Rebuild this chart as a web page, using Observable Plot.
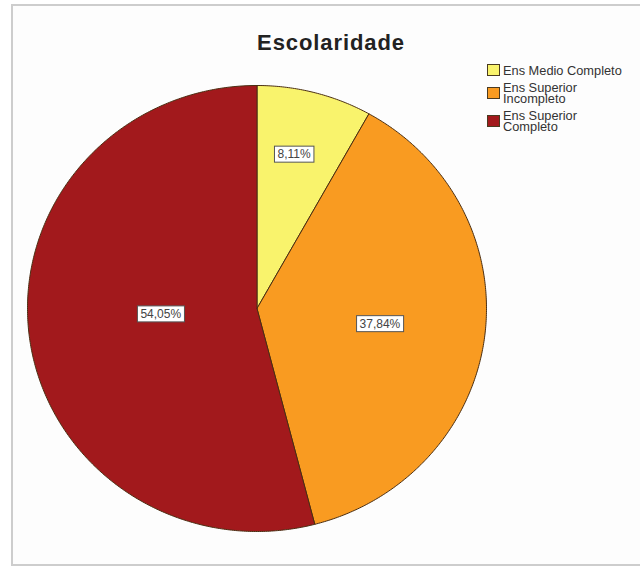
<!DOCTYPE html>
<html>
<head>
<meta charset="utf-8">
<script src="https://cdn.jsdelivr.net/npm/d3@7"></script>
<script src="https://cdn.jsdelivr.net/npm/@observablehq/plot@0.6"></script>
<style>
  body { margin: 0; background: #fff; }
  #wrap { position: relative; width: 640px; height: 567px; overflow: hidden; font-family: Arial, "Liberation Sans", Helvetica, sans-serif; background: #fff; }
  #frame { position: absolute; left: 11px; top: 4px; width: 720px; height: 562px; border: 2px solid #cdcdcd; box-sizing: border-box; background: #fdfdfd; }
  #chart { position: absolute; left: 0; top: 0; }
  #title { position: absolute; left: 206px; width: 250px; top: 32px; text-align: center; font-weight: bold; font-size: 22px; line-height: 22px; letter-spacing: 0.9px; color: #222; }
  #legend { position: absolute; left: 487px; top: 64px; display: flex; flex-direction: column; gap: 6px; }
  .item { display: flex; align-items: center; }
  .sw { width: 11px; height: 10px; border: 1px solid #4a3a20; margin-right: 3px; flex: none; }
  .lab { width: 124px; font-size: 12.8px; line-height: 11px; color: #333; }
</style>
</head>
<body>
<div id="wrap">
  <div id="frame"></div>
  <div id="chart"></div>
  <div id="title">Escolaridade</div>
  <div id="legend"></div>
</div>
<script>
// Data
const categories = ["Ens Medio Completo", "Ens Superior Incompleto", "Ens Superior Completo"];
const percents = [8.11, 37.84, 54.05];
const colors = ["#f9f36c", "#f99b21", "#a2191c"];
const labelRadius = [0.71, 0.54, 0.42];
const labelShift = [-0.05, 0.0, 0.02]; // small angular shift (fraction of slice) of label

// Build slice outlines (angles clockwise from 12 o'clock) from the values
const total = d3.sum(percents);
let acc = 0;
const slices = percents.map((p, i) => {
  const a0 = acc / total * 2 * Math.PI;
  acc += p;
  const a1 = acc / total * 2 * Math.PI;
  const pts = [{x: 0, y: 0}];
  const n = Math.max(2, Math.ceil((a1 - a0) / (Math.PI / 360)));
  for (let k = 0; k <= n; k++) {
    const a = a0 + (a1 - a0) * k / n;
    pts.push({x: Math.sin(a), y: Math.cos(a)});
  }
  pts.push({x: 0, y: 0});
  const am = (a0 + a1) / 2 + (a1 - a0) * labelShift[i];
  return {cat: categories[i], color: colors[i], pts,
          label: {x: labelRadius[i] * Math.sin(am), y: labelRadius[i] * Math.cos(am),
                  text: p.toFixed(2).replace(".", ",") + "%"}};
});

const plot = Plot.plot({
  width: 640,
  height: 567,
  marginLeft: 27,
  marginRight: 154,
  marginTop: 85,
  marginBottom: 36,
  x: {domain: [-1, 1], axis: null},
  y: {domain: [-1, 1], axis: null},
  style: {background: "transparent", overflow: "visible"},
  marks: [
    ...slices.map(s => Plot.line(s.pts, {x: "x", y: "y", fill: s.color, stroke: "#4a2e12", strokeWidth: 1, curve: "linear", strokeLinejoin: "round"})),
    Plot.text(slices.map(s => s.label), {x: "x", y: "y", text: "text", fontSize: 12, fill: "#444", fontFamily: "Arial, 'Liberation Sans', sans-serif"})
  ]
});
document.getElementById("chart").appendChild(plot);

// White boxes behind the percentage labels
const ns = "http://www.w3.org/2000/svg";
plot.querySelectorAll('g[aria-label="text"] text').forEach(t => {
  const b = t.getBBox();
  const r = document.createElementNS(ns, "rect");
  r.setAttribute("x", b.x - 3);
  r.setAttribute("y", b.y - 1);
  r.setAttribute("width", b.width + 6);
  r.setAttribute("height", b.height + 2);
  r.setAttribute("fill", "#fff");
  r.setAttribute("stroke", "#555");
  r.setAttribute("stroke-width", 1);
  const tr = t.getAttribute("transform");
  if (tr) r.setAttribute("transform", tr);
  t.parentNode.insertBefore(r, t);
});

// Legend
const leg = document.getElementById("legend");
categories.forEach((c, i) => {
  const it = document.createElement("div");
  it.className = "item";
  const sw = document.createElement("div");
  sw.className = "sw";
  sw.style.background = colors[i];
  const lb = document.createElement("div");
  lb.className = "lab";
  lb.textContent = c;
  it.appendChild(sw);
  it.appendChild(lb);
  leg.appendChild(it);
});
</script>
</body>
</html>
